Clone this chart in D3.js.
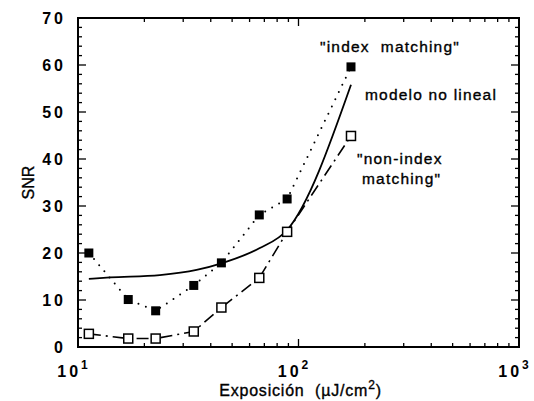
<!DOCTYPE html>
<html>
<head>
<meta charset="utf-8">
<script src="https://cdn.jsdelivr.net/npm/d3@7"></script>
<style>
  body { margin: 0; background: #fff; }
  svg text { font-family: "Liberation Sans", Arial, sans-serif; fill: #000; }
</style>
</head>
<body>
<svg id="chart" width="534" height="401"></svg>
<script>
// exposure values (uJ/cm2) shared by both measured series
var exposure = [11.2, 16.9, 22.5, 33.5, 44.7, 66.4, 88.8, 173];
var snrIndex = [20, 10.1, 7.7, 13.1, 17.9, 28.1, 31.5, 59.6];      // "index matching"
var snrNonIndex = [2.8, 1.8, 1.8, 3.3, 8.4, 14.7, 24.5, 44.9];     // "non-index matching"
// non linear model curve
var modelX = [11.2, 14, 23.5, 34.5, 44.7, 66.4, 88.8, 173];
var modelY = [14.5, 14.8, 15.3, 16.4, 17.8, 21, 24.9, 55.8];
var yTicks = [0, 10, 20, 30, 40, 50, 60, 70];
var xTicks = [10, 100, 1000];

var svg = d3.select("#chart");
var margin = {top: 18, right: 15, bottom: 54, left: 78};
var width = 534 - margin.left - margin.right;
var height = 401 - margin.top - margin.bottom;

var g = svg.append("g").attr("transform", "translate(" + margin.left + "," + margin.top + ")");

var x = d3.scaleLog().domain([10, 1000]).range([0, width]);
var y = d3.scaleLinear().domain([0, 70]).range([height, 0]);

// minor ticks
var xMinor = [];
[10, 100].forEach(function(d) {
  for (var k = 2; k <= 9; k++) xMinor.push(d * k);
});
var yMinor = d3.range(0, 71, 2).filter(function(v) { return v % 10 !== 0; });

var ticks = g.append("g").attr("stroke", "#000").attr("stroke-width", 1.3);
// bottom + top
xMinor.forEach(function(v) {
  ticks.append("line").attr("x1", x(v)).attr("x2", x(v)).attr("y1", height).attr("y2", height - 4);
  ticks.append("line").attr("x1", x(v)).attr("x2", x(v)).attr("y1", 0).attr("y2", 4);
});
xTicks.forEach(function(v) {
  ticks.append("line").attr("x1", x(v)).attr("x2", x(v)).attr("y1", height).attr("y2", height - 8);
  ticks.append("line").attr("x1", x(v)).attr("x2", x(v)).attr("y1", 0).attr("y2", 8);
});
// left + right
yMinor.forEach(function(v) {
  ticks.append("line").attr("x1", 0).attr("x2", 4).attr("y1", y(v)).attr("y2", y(v));
  ticks.append("line").attr("x1", width).attr("x2", width - 4).attr("y1", y(v)).attr("y2", y(v));
});
yTicks.forEach(function(v) {
  ticks.append("line").attr("x1", 0).attr("x2", 8).attr("y1", y(v)).attr("y2", y(v));
  ticks.append("line").attr("x1", width).attr("x2", width - 8).attr("y1", y(v)).attr("y2", y(v));
});

// frame
g.append("rect")
  .attr("width", width).attr("height", height)
  .attr("fill", "none").attr("stroke", "#000").attr("stroke-width", 2);

// tick labels
g.append("g").selectAll("text")
  .data(yTicks)
  .enter().append("text")
  .attr("x", -12)
  .attr("y", function(d) { return y(d); })
  .attr("dy", "0.36em")
  .attr("text-anchor", "end")
  .attr("font-size", 16)
  .attr("font-weight", "bold")
  .attr("letter-spacing", 3)
  .text(function(d) { return d; });

var xl = g.append("g").selectAll("text")
  .data(xTicks)
  .enter().append("text")
  .attr("x", function(d) { return x(d) - 4; })
  .attr("y", height + 30)
  .attr("text-anchor", "middle")
  .attr("font-size", 16)
  .attr("font-weight", "bold")
  .attr("letter-spacing", 3);
xl.append("tspan").text("10");
xl.append("tspan")
  .attr("dy", -8)
  .attr("font-size", 12)
  .text(function(d) { return Math.round(Math.log10(d)); });

// axis titles
var xt = g.append("text")
  .attr("x", width / 2 + 2)
  .attr("y", height + 49)
  .attr("text-anchor", "middle")
  .attr("font-size", 16)
  .attr("letter-spacing", 0.8)
  .attr("stroke", "#000").attr("stroke-width", 0.35);
xt.append("tspan").text("Exposición\u00a0\u00a0(µJ/cm");
xt.append("tspan").attr("dy", -7).attr("font-size", 12).text("2");
xt.append("tspan").attr("dy", 7).text(")");

g.append("text")
  .attr("transform", "translate(-44," + (height / 2) + ") rotate(-90)")
  .attr("text-anchor", "middle")
  .attr("font-size", 16)
  .attr("stroke", "#000").attr("stroke-width", 0.35)
  .text("SNR");

// lines
var line = d3.line()
  .x(function(d) { return x(d[0]); })
  .y(function(d) { return y(d[1]); });

g.append("path")
  .datum(d3.zip(modelX, modelY))
  .attr("d", line.curve(d3.curveMonotoneX))
  .attr("fill", "none").attr("stroke", "#000").attr("stroke-width", 1.8);

line.curve(d3.curveLinear);

g.append("path")
  .datum(d3.zip(exposure, snrIndex))
  .attr("d", line)
  .attr("fill", "none").attr("stroke", "#000").attr("stroke-width", 2)
  .attr("stroke-linecap", "round")
  .attr("stroke-dasharray", "0,8");

g.append("path")
  .datum(d3.zip(exposure, snrNonIndex))
  .attr("d", line)
  .attr("fill", "none").attr("stroke", "#000").attr("stroke-width", 1.6)
  .attr("stroke-dasharray", "12,5,2,5");

// markers
var sq = 9;
g.append("g").selectAll("rect")
  .data(d3.zip(exposure, snrIndex))
  .enter().append("rect")
  .attr("x", function(d) { return x(d[0]) - sq / 2; })
  .attr("y", function(d) { return y(d[1]) - sq / 2; })
  .attr("width", sq).attr("height", sq)
  .attr("fill", "#000");

g.append("g").selectAll("rect")
  .data(d3.zip(exposure, snrNonIndex))
  .enter().append("rect")
  .attr("x", function(d) { return x(d[0]) - sq / 2; })
  .attr("y", function(d) { return y(d[1]) - sq / 2; })
  .attr("width", sq).attr("height", sq)
  .attr("fill", "#fff").attr("stroke", "#000").attr("stroke-width", 1.5);

// annotations
var ann = g.append("g")
  .attr("font-size", 15.5)
  .attr("letter-spacing", 1.2)
  .attr("stroke", "#000").attr("stroke-width", 0.35);
ann.append("text").attr("x", 242).attr("y", 34).text('"index\u00a0\u00a0matching"');
ann.append("text").attr("x", 287).attr("y", 82).text("modelo no lineal");
ann.append("text").attr("x", 279).attr("y", 146).text('"non-index');
ann.append("text").attr("x", 284).attr("y", 166).text('matching"');
</script>
</body>
</html>
